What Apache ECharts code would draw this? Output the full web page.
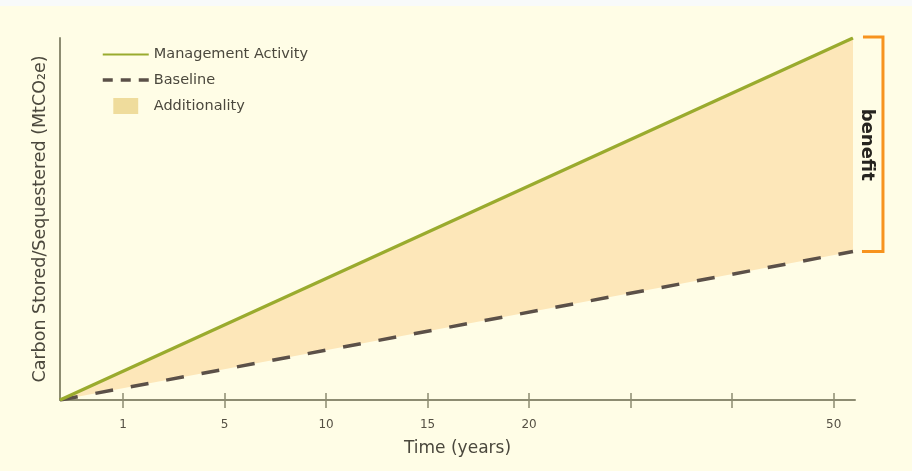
<!DOCTYPE html>
<html>
<head>
    <meta charset="UTF-8">
    <title>Additionality</title>
    <script src="https://cdn.jsdelivr.net/npm/echarts@6/dist/echarts.min.js"></script>
    <style>
      html, body{
        margin: 0;
        padding: 0;
        background: #fffde6;
      }
      #container{
        width: 912px;
        height: 471px;
      }
    </style>
</head>
<body>
<div id="container"></div>
<script>
    // x is measured in tick slots (origin at 0), y in relative carbon units
    var tickPos = [0.62, 1.62, 2.62, 3.62, 4.62, 5.62, 6.62, 7.62]
    var tickLabels = ['1', '5', '10', '15', '20', '', '', '50']
    var timeX = [0, 7.81]
    var management = [0, 100]
    var baseline = [0, 41]

    var txt = '#4b483d'
    var font = 'DejaVu Sans'

    function pairs(xs, ys) {
        var out = []
        for (var i = 0; i < xs.length; i++) out.push([xs[i], ys[i]])
        return out
    }

    var dom = document.getElementById('container')
    var myChart = echarts.init(dom, null, {renderer: 'canvas'})

    var option = {
        backgroundColor: '#fffde6',
        animation: false,
        textStyle: {fontFamily: font},
        grid: {left: 60, right: 57, top: 38, bottom: 71},
        legend: {
            orient: 'vertical',
            left: 101,
            top: 47,
            padding: 0,
            itemWidth: 46,
            itemHeight: 16,
            itemGap: 10.5,
            itemStyle: {opacity: 0},
            textStyle: {color: txt, fontSize: 14.5, fontFamily: font},
            data: [
                {name: 'Management Activity'},
                {name: 'Baseline', lineStyle: {type: [10, 8], width: 3.5}},
                {name: 'Additionality', icon: 'path://M0,0H28V18H0Z',
                    itemStyle: {color: '#efdc9c', opacity: 1}}
            ]
        },
        xAxis: [
            {
                type: 'value',
                min: 0,
                max: 7.83,
                position: 'bottom',
                name: 'Time (years)',
                nameLocation: 'middle',
                nameGap: 40,
                nameTextStyle: {color: txt, fontSize: 17, fontFamily: font},
                splitLine: {show: false},
                axisLine: {show: true, lineStyle: {color: '#8d8c72', width: 2}},
                axisTick: {show: true, length: 8, customValues: tickPos,
                    lineStyle: {color: '#8d8c72', width: 1.5}},
                axisLabel: {
                    customValues: tickPos,
                    margin: 19,
                    color: '#555044',
                    fontSize: 12,
                    fontFamily: font,
                    formatter: function (v) {
                        for (var i = 0; i < tickPos.length; i++) {
                            if (Math.abs(tickPos[i] - v) < 1e-6) return tickLabels[i]
                        }
                        return ''
                    }
                }
            },
            {
                // inner half of the crossing ticks
                type: 'value',
                min: 0,
                max: 7.83,
                position: 'bottom',
                splitLine: {show: false},
                axisLine: {show: false},
                axisLabel: {show: false},
                axisTick: {show: true, inside: true, length: 7, customValues: tickPos,
                    lineStyle: {color: '#8d8c72', width: 1.5}}
            }
        ],
        yAxis: {
            type: 'value',
            min: 0,
            max: 100,
            name: 'Carbon Stored/Sequestered (MtCO\u2082e)',
            nameLocation: 'middle',
            nameGap: 11,
            nameTextStyle: {color: txt, fontSize: 17.5, fontFamily: font},
            splitLine: {show: false},
            axisTick: {show: false},
            axisLabel: {show: false},
            axisLine: {show: true, lineStyle: {color: '#8d8c72', width: 2}}
        },
        series: [
            {
                // shaded band between the two lines
                name: 'Additionality',
                type: 'custom',
                z: 2,
                data: pairs(timeX, management),
                itemStyle: {color: '#efdc9c'},
                renderItem: function (params, api) {
                    if (params.dataIndex !== 0) return
                    var pts = []
                    for (var i = 0; i < timeX.length; i++) pts.push(api.coord([timeX[i], management[i]]))
                    for (var j = timeX.length - 1; j >= 0; j--) pts.push(api.coord([timeX[j], baseline[j]]))
                    return {type: 'polygon', shape: {points: pts}, style: {fill: '#fde7b9'}}
                }
            },
            {
                name: 'Baseline',
                type: 'line',
                z: 4,
                symbol: 'none',
                data: pairs(timeX, baseline),
                lineStyle: {color: '#5b5048', width: 3.5, type: [18, 18]},
                itemStyle: {color: '#5b5048'}
            },
            {
                name: 'Management Activity',
                type: 'line',
                z: 5,
                symbol: 'none',
                data: pairs(timeX, management),
                lineStyle: {color: '#9aab2e', width: 3.2},
                itemStyle: {color: '#9aab2e'}
            }
        ]
    }

    myChart.setOption(option, true)

    // benefit bracket, placed from the end points of the two lines
    var last = timeX.length - 1
    var pTop = myChart.convertToPixel({seriesIndex: 2}, [timeX[last], management[last]])
    var pBot = myChart.convertToPixel({seriesIndex: 1}, [timeX[last], baseline[last]])
    var bx = pTop[0] + 30
    myChart.setOption({
        graphic: [
            {
                type: 'rect',
                left: 0, top: 0, z: 0,
                shape: {width: 912, height: 6},
                style: {fill: '#f8fafa'}
            },
            {
                type: 'polyline',
                z: 10,
                shape: {points: [[pTop[0] + 10, pTop[1] - 1], [bx, pTop[1] - 1], [bx, pBot[1]], [pTop[0] + 9, pBot[1]]]},
                style: {stroke: '#f7931e', lineWidth: 3, fill: null}
            },
            {
                type: 'text',
                z: 10,
                x: pTop[0] + 14,
                y: (pTop[1] + pBot[1]) / 2,
                rotation: -Math.PI / 2,
                style: {
                    text: 'benefit',
                    fill: '#26241f',
                    font: 'bold 18px "DejaVu Sans"',
                    align: 'center',
                    verticalAlign: 'middle'
                }
            }
        ]
    })
</script>
</body>
</html>
